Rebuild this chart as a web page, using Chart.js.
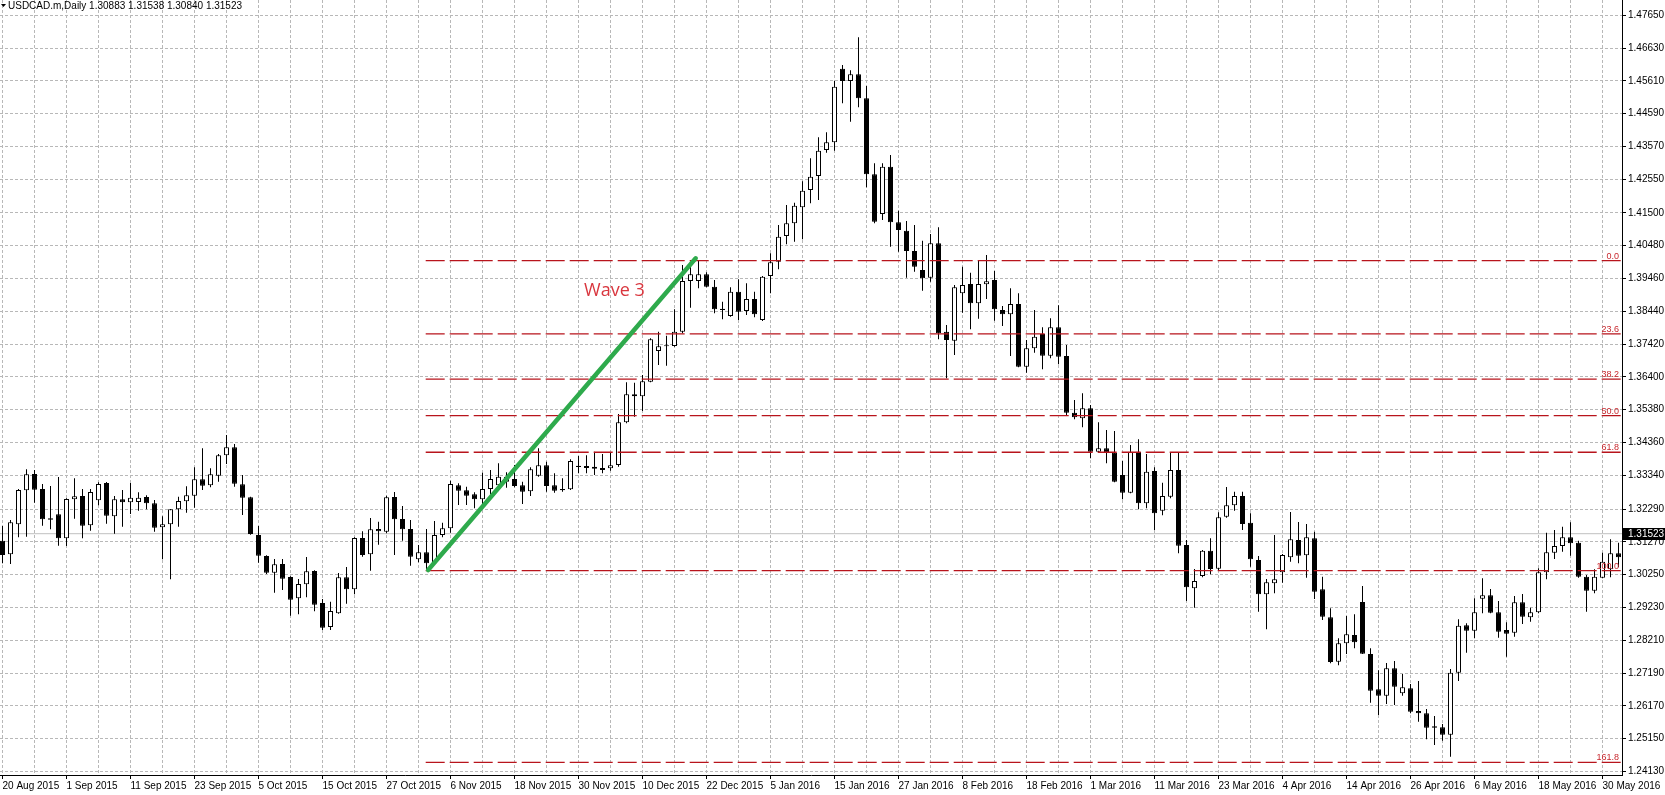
<!DOCTYPE html>
<html>
<head>
<meta charset="utf-8">
<script src="https://cdn.jsdelivr.net/npm/chart.js@4.4.0/dist/chart.umd.min.js"></script>
<style>
  html, body { margin: 0; padding: 0; background: #ffffff; }
  #wrap { width: 1665px; height: 795px; position: relative; }
</style>
</head>
<body>
<div id="wrap"><canvas id="chart"></canvas></div>
<script>
const symbolTitle = "USDCAD.m,Daily";
const lastQuote = ["1.30883", "1.31538", "1.30840", "1.31523"];

const dateTicks = [
  "20 Aug 2015", "1 Sep 2015", "11 Sep 2015", "23 Sep 2015", "5 Oct 2015", "15 Oct 2015",
  "27 Oct 2015", "6 Nov 2015", "18 Nov 2015", "30 Nov 2015", "10 Dec 2015", "22 Dec 2015",
  "5 Jan 2016", "15 Jan 2016", "27 Jan 2016", "8 Feb 2016", "18 Feb 2016", "1 Mar 2016",
  "11 Mar 2016", "23 Mar 2016", "4 Apr 2016", "14 Apr 2016", "26 Apr 2016", "6 May 2016",
  "18 May 2016", "30 May 2016"
];

const priceTicks = [
  1.47650, 1.46630, 1.45610, 1.44590, 1.43570, 1.42550, 1.41500, 1.40480, 1.39460, 1.38440,
  1.37420, 1.36400, 1.35380, 1.34360, 1.33340, 1.32290, 1.31270, 1.30250, 1.29230, 1.28210,
  1.27190, 1.26170, 1.25150, 1.24130
];

// daily candles, one per trading day from 20 Aug 2015
const opens = [
  1.31307, 1.30882, 1.31815, 1.32872, 1.33380, 1.32914, 1.32001, 1.32126, 1.31379, 1.32592,
  1.32696, 1.31784, 1.32561, 1.33100, 1.32064, 1.32592, 1.32499, 1.32510, 1.32665, 1.32468,
  1.31722, 1.31815, 1.32281, 1.32530, 1.32706, 1.33214, 1.33028, 1.33329, 1.33961, 1.34210,
  1.33059, 1.32655, 1.31483, 1.30830, 1.30311, 1.30581, 1.30177, 1.29513, 1.29949, 1.30363,
  1.29368, 1.28621, 1.29047, 1.30166, 1.29793, 1.31390, 1.30882, 1.31670, 1.31587, 1.32665,
  1.31981, 1.31670, 1.30726, 1.30944, 1.30602, 1.31483, 1.31691, 1.33028, 1.32873, 1.32748,
  1.32593, 1.32914, 1.33028, 1.33142, 1.33225, 1.33028, 1.32842, 1.33329, 1.33650, 1.33028,
  1.32914, 1.32904, 1.33640, 1.33629, 1.33609, 1.33505, 1.33557, 1.33660, 1.34988, 1.35858,
  1.35796, 1.36252, 1.37206, 1.37351, 1.37362, 1.37808, 1.39384, 1.39384, 1.39591, 1.39207,
  1.38523, 1.38295, 1.39052, 1.38450, 1.38824, 1.38170, 1.39539, 1.39985, 1.40784, 1.41178,
  1.41675, 1.42214, 1.42650, 1.43459, 1.43697, 1.45988, 1.45605, 1.45812, 1.45066, 1.42702,
  1.41468, 1.42940, 1.41209, 1.40949, 1.40317, 1.39726, 1.39488, 1.40555, 1.37808, 1.37528,
  1.39000, 1.39290, 1.38689, 1.39280, 1.39415, 1.38482, 1.38347, 1.38668, 1.36719, 1.37289,
  1.37735, 1.37061, 1.37943, 1.37051, 1.35288, 1.35112, 1.35423, 1.34075, 1.34179, 1.34044,
  1.33350, 1.32800, 1.34075, 1.32468, 1.33474, 1.32240, 1.32676, 1.33505, 1.31172, 1.29824,
  1.30208, 1.30996, 1.30436, 1.32053, 1.32406, 1.32696, 1.31867, 1.30706, 1.29638, 1.29980,
  1.30322, 1.30789, 1.31328, 1.30851, 1.31380, 1.29793, 1.28922, 1.27543, 1.28114, 1.28373,
  1.29399, 1.27782, 1.26683, 1.26486, 1.27336, 1.26559, 1.26714, 1.26009, 1.25936, 1.25532,
  1.25501, 1.25273, 1.27201, 1.28674, 1.28508, 1.29503, 1.29607, 1.29078, 1.28528, 1.28446,
  1.29389, 1.28922, 1.29078, 1.30322, 1.30934, 1.31141, 1.31411, 1.31245, 1.30187, 1.29752,
  1.30156, 1.30415, 1.30913
];
const highs = [
  1.31763, 1.31950, 1.32914, 1.33526, 1.33505, 1.33069, 1.33007, 1.33287, 1.32624, 1.33246,
  1.32914, 1.32914, 1.33121, 1.33132, 1.32696, 1.32883, 1.33100, 1.32810, 1.32717, 1.32572,
  1.32064, 1.32292, 1.32675, 1.32997, 1.33588, 1.34179, 1.33557, 1.34002, 1.34593, 1.34313,
  1.33349, 1.32675, 1.31763, 1.30851, 1.30736, 1.30736, 1.30197, 1.30114, 1.30799, 1.30384,
  1.29492, 1.29409, 1.30301, 1.30488, 1.31410, 1.31597, 1.32012, 1.31898, 1.32707, 1.32821,
  1.32385, 1.31950, 1.31172, 1.31670, 1.31919, 1.31867, 1.33173, 1.33090, 1.32987, 1.32810,
  1.33422, 1.33505, 1.33712, 1.33433, 1.33661, 1.33142, 1.33588, 1.34179, 1.33764, 1.33401,
  1.33246, 1.33837, 1.33940, 1.33961, 1.34075, 1.34003, 1.34054, 1.35247, 1.36232, 1.36221,
  1.36460, 1.37600, 1.37808, 1.37683, 1.38502, 1.39881, 1.39902, 1.40015, 1.39653, 1.39415,
  1.38741, 1.39187, 1.39435, 1.39311, 1.39052, 1.39539, 1.40244, 1.41126, 1.41748, 1.41820,
  1.42484, 1.43199, 1.43853, 1.44008, 1.45605, 1.46102, 1.45936, 1.46963, 1.45449, 1.43044,
  1.43044, 1.43303, 1.41572, 1.41250, 1.41126, 1.40638, 1.40846, 1.41053, 1.38015, 1.39259,
  1.39830, 1.39643, 1.40037, 1.40192, 1.39695, 1.38606, 1.39156, 1.39000, 1.37549, 1.38482,
  1.37943, 1.38223, 1.38627, 1.37393, 1.35682, 1.35890, 1.35527, 1.34988, 1.34749, 1.34718,
  1.33785, 1.34283, 1.34459, 1.34003, 1.33588, 1.33111, 1.34044, 1.34044, 1.31328, 1.30426,
  1.31017, 1.31380, 1.32188, 1.32976, 1.32831, 1.32831, 1.32157, 1.30830, 1.30115, 1.31483,
  1.30892, 1.32199, 1.31888, 1.31825, 1.31587, 1.30187, 1.29202, 1.28269, 1.28964, 1.29016,
  1.29897, 1.27958, 1.27274, 1.27502, 1.27564, 1.27160, 1.26849, 1.26942, 1.26071, 1.25854,
  1.25605, 1.27315, 1.28860, 1.28736, 1.29513, 1.30135, 1.29804, 1.29430, 1.28767, 1.29586,
  1.29648, 1.29223, 1.30447, 1.31556, 1.31639, 1.31743, 1.31877, 1.31307, 1.30239, 1.30415,
  1.30934, 1.31348, 1.31245
];
const lows = [
  1.30602, 1.30581, 1.31411, 1.31431, 1.32489, 1.31773, 1.31659, 1.31151, 1.31141, 1.31991,
  1.31379, 1.31618, 1.32406, 1.31836, 1.31525, 1.31742, 1.32136, 1.32240, 1.32281, 1.31587,
  1.30726, 1.30104, 1.31742, 1.32178, 1.32333, 1.32883, 1.32966, 1.33142, 1.33691, 1.32986,
  1.32105, 1.31493, 1.30622, 1.30270, 1.29689, 1.29772, 1.28974, 1.29015, 1.29544, 1.29109,
  1.28528, 1.28528, 1.29036, 1.29347, 1.29638, 1.30809, 1.30374, 1.31182, 1.31535, 1.30861,
  1.31307, 1.30529, 1.30633, 1.30372, 1.30571, 1.31411, 1.31556, 1.32416, 1.32416, 1.32313,
  1.32448, 1.32759, 1.32883, 1.32956, 1.32966, 1.32448, 1.32696, 1.33298, 1.32831, 1.32800,
  1.32831, 1.32883, 1.33401, 1.33401, 1.33349, 1.33401, 1.33484, 1.33609, 1.34956, 1.35164,
  1.35340, 1.36232, 1.36771, 1.36750, 1.37341, 1.37756, 1.38554, 1.39155, 1.39187, 1.38378,
  1.38191, 1.38274, 1.38170, 1.38326, 1.38253, 1.38139, 1.39000, 1.39747, 1.40524, 1.40607,
  1.40680, 1.41800, 1.41903, 1.43376, 1.43438, 1.44910, 1.44340, 1.44786, 1.42297, 1.41178,
  1.41281, 1.40452, 1.40296, 1.39488, 1.39674, 1.39083, 1.39363, 1.37570, 1.36356, 1.37082,
  1.38399, 1.37880, 1.38212, 1.38824, 1.38150, 1.37984, 1.37051, 1.36698, 1.36533, 1.37155,
  1.36636, 1.36978, 1.36792, 1.35195, 1.35081, 1.34832, 1.33868, 1.34055, 1.33712, 1.33121,
  1.32593, 1.32779, 1.32282, 1.32313, 1.31639, 1.32095, 1.32624, 1.30913, 1.29430, 1.29223,
  1.30166, 1.30260, 1.30395, 1.32022, 1.32240, 1.31639, 1.30498, 1.29099, 1.28549, 1.29669,
  1.30001, 1.30654, 1.30602, 1.30156, 1.29493, 1.28839, 1.27492, 1.27429, 1.27782, 1.27958,
  1.27782, 1.26268, 1.25885, 1.26227, 1.26196, 1.26486, 1.25936, 1.25677, 1.25128, 1.24951,
  1.25086, 1.24589, 1.26942, 1.27823, 1.28269, 1.29047, 1.29047, 1.28290, 1.27699, 1.28321,
  1.28715, 1.28788, 1.29047, 1.30104, 1.30737, 1.30965, 1.30841, 1.30150, 1.29099, 1.29669,
  1.30135, 1.30167, 1.30478
];
const closes = [
  1.30861, 1.31877, 1.32883, 1.33370, 1.32893, 1.31970, 1.31960, 1.31379, 1.32603, 1.32686,
  1.31773, 1.32821, 1.33069, 1.32084, 1.32592, 1.32499, 1.32644, 1.32644, 1.32468, 1.31711,
  1.31815, 1.32281, 1.32541, 1.32717, 1.33214, 1.33017, 1.33370, 1.33961, 1.34210, 1.33080,
  1.32644, 1.31514, 1.30840, 1.30311, 1.30571, 1.30125, 1.29472, 1.29959, 1.30353, 1.29316,
  1.28601, 1.29119, 1.30166, 1.29793, 1.31390, 1.30861, 1.31659, 1.31597, 1.32655, 1.31971,
  1.31660, 1.30809, 1.30944, 1.30602, 1.31483, 1.31691, 1.33070, 1.32862, 1.32707, 1.32593,
  1.32914, 1.33225, 1.33298, 1.33298, 1.33007, 1.32831, 1.33526, 1.33650, 1.33007, 1.32862,
  1.32873, 1.33785, 1.33598, 1.33567, 1.33546, 1.33567, 1.33650, 1.34988, 1.35858, 1.35796,
  1.36263, 1.37569, 1.37351, 1.37372, 1.37808, 1.39384, 1.39591, 1.39591, 1.39207, 1.38502,
  1.38482, 1.39052, 1.38430, 1.38824, 1.38347, 1.39518, 1.39964, 1.40763, 1.41178, 1.41727,
  1.42194, 1.42629, 1.43438, 1.43697, 1.45428, 1.45605, 1.45812, 1.45066, 1.42702, 1.41229,
  1.42940, 1.41209, 1.40970, 1.40317, 1.39830, 1.39467, 1.40555, 1.37756, 1.37549, 1.39187,
  1.39259, 1.38689, 1.39290, 1.39373, 1.38502, 1.38347, 1.38668, 1.36719, 1.37289, 1.37652,
  1.37061, 1.37943, 1.37030, 1.35288, 1.35143, 1.35423, 1.34075, 1.34179, 1.34044, 1.33142,
  1.32800, 1.34075, 1.32468, 1.33453, 1.32157, 1.32696, 1.33505, 1.31151, 1.29855, 1.30052,
  1.30996, 1.30426, 1.32033, 1.32406, 1.32696, 1.31825, 1.30726, 1.29638, 1.30011, 1.30104,
  1.30861, 1.31348, 1.30840, 1.31411, 1.29721, 1.28943, 1.27533, 1.28114, 1.28394, 1.28145,
  1.27792, 1.26641, 1.26486, 1.27336, 1.26766, 1.26745, 1.25988, 1.25936, 1.25491, 1.25491,
  1.25273, 1.27201, 1.28663, 1.28508, 1.29078, 1.29607, 1.29068, 1.28477, 1.28414, 1.29389,
  1.28943, 1.29078, 1.30322, 1.30944, 1.31141, 1.31411, 1.31224, 1.30187, 1.29752, 1.30187,
  1.30654, 1.30913, 1.30789
];

// fibonacci retracement drawn on the chart
const fibLevels = ["0.0", "23.6", "38.2", "50.0", "61.8", "100.0", "161.8"];
const fibPrices = [1.40015, 1.37739, 1.36331, 1.35194, 1.34056, 1.30372, 1.24413];
const fibStartBar = 52.9;

// "Wave 3" trend line
const waveBars = [53.2, 86.65];
const wavePrices = [1.30394, 1.40089];
const waveLabel = "Wave 3";
const waveLabelBar = 72.7;
const waveLabelPrice = 1.39072;

const bidPrice = 1.31523;

const xMin = -0.3125;
const xMax = 202.4375;
const yMin = 1.240178;
const yMax = 1.481236;

const fontFamily = "'Liberation Sans', Arial, sans-serif";
const gridColor = "#b8b8b8";
const fibColor = "#b8141c";

const gridBars = [];
for (let b = 0; b <= 200; b += 4) gridBars.push(b);

const bodyData = opens.map((o, i) => ({ x: i, y: [o, closes[i]] }));
const wickData = highs.map((h, i) => ({ x: i, y: [lows[i], h] }));
const bodyColors = opens.map((o, i) => (closes[i] >= o ? "#ffffff" : "#000000"));

const fibDatasets = fibPrices.map((p, k) => ({
  type: "line",
  label: "fib " + fibLevels[k],
  data: [{ x: fibStartBar, y: p }, { x: xMax, y: p }],
  borderColor: fibColor,
  borderWidth: 1.3,
  borderDash: [19, 5],
  pointRadius: 0,
  order: 1
}));

const overlayPlugin = {
  id: "overlay",
  afterDatasetsDraw(chart) {
    const ctx = chart.ctx;
    const xs = chart.scales.x;
    const ys = chart.scales.y;
    const area = chart.chartArea;

    ctx.save();
    ctx.fillStyle = "#c8282e";
    ctx.font = "9px " + fontFamily;
    ctx.textAlign = "right";
    ctx.textBaseline = "bottom";
    fibPrices.forEach((p, k) => {
      ctx.fillText(fibLevels[k], area.right - 3, Math.round(ys.getPixelForValue(p)));
    });

    ctx.fillStyle = "#d9363e";
    ctx.font = "18px 'Open Sans', sans-serif";
    ctx.textAlign = "left";
    ctx.textBaseline = "middle";
    ctx.fillText(waveLabel, xs.getPixelForValue(waveLabelBar), ys.getPixelForValue(waveLabelPrice));
    ctx.restore();
  },
  afterDraw(chart) {
    const ctx = chart.ctx;
    const ys = chart.scales.y;
    const area = chart.chartArea;
    ctx.save();

    // title
    ctx.fillStyle = "#000";
    ctx.beginPath();
    ctx.moveTo(1, 4);
    ctx.lineTo(6, 4);
    ctx.lineTo(3.5, 7);
    ctx.closePath();
    ctx.fill();
    ctx.font = "10px " + fontFamily;
    ctx.textAlign = "left";
    ctx.textBaseline = "middle";
    ctx.fillText(symbolTitle + " " + lastQuote.join(" "), 8, 6);

    // bid price tag on the axis
    const by = Math.round(ys.getPixelForValue(bidPrice));
    ctx.fillStyle = "#000";
    ctx.fillRect(area.right + 1, by - 6, chart.width - area.right - 1, 12);
    ctx.fillStyle = "#fff";
    ctx.fillText(bidPrice.toFixed(5), area.right + 6, by);
    ctx.restore();
  }
};

new Chart(document.getElementById("chart"), {
  type: "bar",
  data: {
    datasets: [
      {
        type: "line",
        label: waveLabel,
        data: waveBars.map((b, i) => ({ x: b, y: wavePrices[i] })),
        borderColor: "#2eaa4c",
        borderWidth: 4.5,
        borderCapStyle: "round",
        pointRadius: 0,
        order: 0
      },
      ...fibDatasets,
      {
        label: "bodies",
        data: bodyData,
        backgroundColor: bodyColors,
        borderColor: "#000000",
        borderWidth: 1,
        borderSkipped: false,
        barThickness: 5,
        minBarLength: 1,
        inflateAmount: 0,
        grouped: false,
        order: 3
      },
      {
        label: "wicks",
        data: wickData,
        backgroundColor: "#000000",
        borderWidth: 0,
        barThickness: 1,
        inflateAmount: 0,
        grouped: false,
        order: 4
      },
      {
        type: "line",
        label: "bid",
        data: [{ x: xMin, y: bidPrice }, { x: xMax, y: bidPrice }],
        borderColor: "#c0c0c0",
        borderWidth: 1,
        pointRadius: 0,
        order: 5
      }
    ]
  },
  options: {
    responsive: true,
    maintainAspectRatio: false,
    animation: false,
    layout: { padding: 0 },
    plugins: {
      legend: { display: false },
      tooltip: { enabled: false }
    },
    scales: {
      x: {
        type: "linear",
        min: xMin,
        max: xMax,
        offset: false,
        afterBuildTicks: scale => {
          scale.ticks = gridBars.map(v => ({ value: v }));
        },
        afterFit: scale => {
          scale.height = 20;
          scale.paddingLeft = 0;
          scale.paddingRight = 0;
        },
        grid: {
          offset: false,
          color: gridColor,
          lineWidth: 1,
          drawTicks: true,
          tickLength: 4,
          tickWidth: 1,
          tickBorderDash: [],
          tickColor: c => (c.tick && c.tick.value % 8 === 0 ? "#000000" : "rgba(0,0,0,0)")
        },
        border: { display: true, color: "#000000", width: 1, dash: [3, 2] },
        ticks: {
          autoSkip: false,
          maxRotation: 0,
          minRotation: 0,
          align: "start",
          padding: 1,
          color: "#000000",
          font: { family: fontFamily, size: 10 },
          callback: v => (v % 8 === 0 ? dateTicks[v / 8] : "")
        }
      },
      y: {
        type: "linear",
        position: "right",
        min: yMin,
        max: yMax,
        afterBuildTicks: scale => {
          scale.ticks = priceTicks.map(v => ({ value: v }));
        },
        afterFit: scale => {
          scale.width = 43;
          scale.paddingTop = 0;
          scale.paddingBottom = 0;
        },
        grid: {
          color: gridColor,
          lineWidth: 1,
          drawTicks: true,
          tickLength: 4,
          tickWidth: 1,
          tickBorderDash: [],
          tickColor: "#000000"
        },
        border: { display: true, color: "#000000", width: 1, dash: [3, 2] },
        ticks: {
          autoSkip: false,
          padding: 2,
          color: "#000000",
          font: { family: fontFamily, size: 10 },
          callback: v => Number(v).toFixed(5)
        }
      }
    }
  },
  plugins: [overlayPlugin]
});
</script>
</body>
</html>
